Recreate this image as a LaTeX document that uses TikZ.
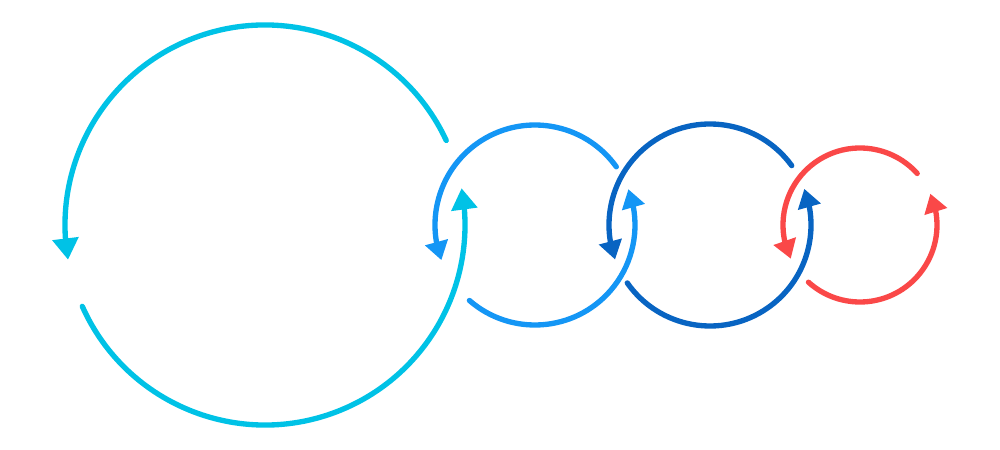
\documentclass[tikz,border=0pt]{standalone}
\usepackage{xcolor}
\usepackage{tikz}
\usetikzlibrary{arrows.meta,bending}
\definecolor{loopcyan}{RGB}{0,194,230}
\definecolor{loopblue}{RGB}{20,150,245}
\definecolor{loopnavy}{RGB}{8,100,194}
\definecolor{loopred}{RGB}{250,72,72}
\begin{document}
\begin{tikzpicture}[x=0.75pt,y=0.75pt,
  looparc/.style={line width=4pt, line cap=round},
  bigtip/.style={-{Triangle[length=16pt,width=19pt]}},
  smalltip/.style={-{Triangle[length=14pt,width=17pt]}}]
\useasboundingbox (0,0) rectangle (1000,450);
%centres of the four loops
\coordinate (C1) at (265,225);
\coordinate (C2) at (535,225);
\coordinate (C3) at (710,225);
\coordinate (C4) at (860,225);
%Shape: Arc, big loop upper
\draw [looparc,bigtip,loopcyan] ([shift={(25:200)}]C1) arc[start angle=25,end angle=190,radius=200] ;
%Shape: Arc, big loop lower
\draw [looparc,bigtip,loopcyan] ([shift={(204:200)}]C1) arc[start angle=204,end angle=370.6,radius=200] ;
%Shape: Arc, second loop upper
\draw [looparc,smalltip,loopblue] ([shift={(35.6:100)}]C2) arc[start angle=35.6,end angle=200.6,radius=100] ;
%Shape: Arc, second loop lower
\draw [looparc,smalltip,loopblue] ([shift={(229:100)}]C2) arc[start angle=229,end angle=381,radius=100] ;
%Shape: Arc, third loop upper
\draw [looparc,smalltip,loopnavy] ([shift={(36:101)}]C3) arc[start angle=36,end angle=200,radius=101] ;
%Shape: Arc, third loop lower
\draw [looparc,smalltip,loopnavy] ([shift={(215:101)}]C3) arc[start angle=215,end angle=381,radius=101] ;
%Shape: Arc, red loop upper
\draw [looparc,smalltip,loopred] ([shift={(42:77)}]C4) arc[start angle=42,end angle=206,radius=77] ;
%Shape: Arc, red loop lower
\draw [looparc,smalltip,loopred] ([shift={(228:77)}]C4) arc[start angle=228,end angle=384,radius=77] ;
\end{tikzpicture}
\end{document}
